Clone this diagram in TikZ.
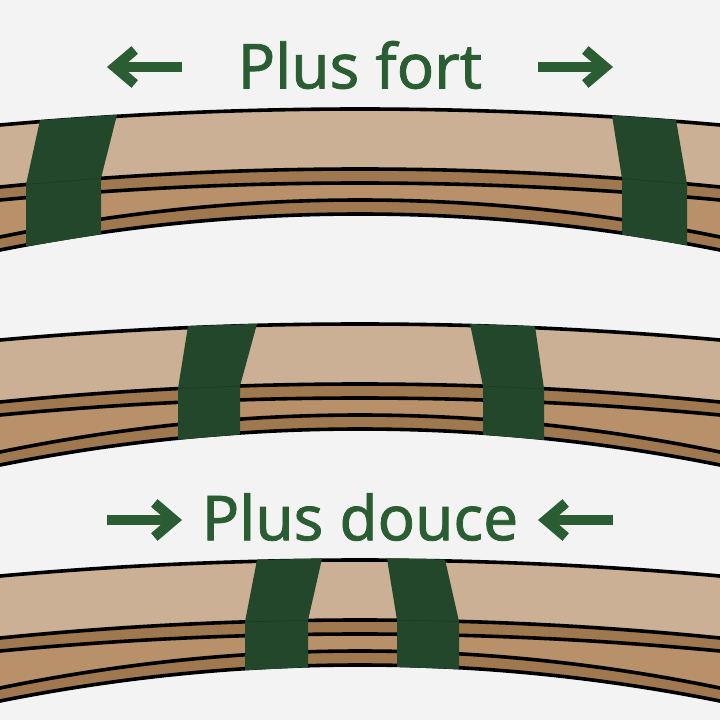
\documentclass[tikz,border=0pt]{standalone}
\usepackage{fontspec}
\setmainfont{Noto Sans}
\newfontfamily\titrefont[FakeBold=1.2]{Noto Sans}
\usetikzlibrary{arrows.meta}
\definecolor{fond}{HTML}{F3F3F3}
\definecolor{boisclair}{HTML}{CBB095}
\definecolor{boisfonce}{HTML}{A07850}
\definecolor{boismoyen}{HTML}{B8906A}
\definecolor{cale}{HTML}{22472A}
\definecolor{calebord}{HTML}{1A3B21}
\definecolor{vert}{HTML}{2A5E32}
\begin{document}
\begin{tikzpicture}[x=1pt,y=-1pt,
    declare function={arc(\x,\c,\k)=\c+\k*(\x/360-1)^2;}]
      \tikzset{trait/.style={line width=3.6pt,black},
          fleche/.style={vert,line width=10pt,
          -{Straight Barb[length=20pt,width=34pt]}},
          titre/.style={vert,font=\titrefont\fontsize{62}{62}\selectfont,inner sep=0pt}
      }
      \fill [fond] (0,0) rectangle (720,720);
      \useasboundingbox (0,0) rectangle (720,720);
      % trois lattes
      \foreach \o/\la/\lb/\lc/\ld/\ra/\rb/\rc/\rd in
          {0/40/117/26/101/612/676/622/687,
           215/188/257/178/240/470/535/483/544,
           451/257/322/245/308/387/445/397/459}{
        \begin{scope}[yshift=-\o pt,smooth,samples=50]
        \fill [boismoyen] plot[domain=-5:725] (\x,{arc(\x,109,16)})
            -- plot[domain=725:-5] (\x,{arc(\x,214,36)}) -- cycle;
        \fill [boisclair] plot[domain=-5:725] (\x,{arc(\x,109,16)})
            -- plot[domain=725:-5] (\x,{arc(\x,169,18)}) -- cycle;
        \fill [boisfonce] plot[domain=-5:725] (\x,{arc(\x,169,18)})
            -- plot[domain=725:-5] (\x,{arc(\x,183,17)}) -- cycle;
        \fill [boisfonce] plot[domain=-5:725] (\x,{arc(\x,200,37)})
            -- plot[domain=725:-5] (\x,{arc(\x,214,36)}) -- cycle;
        \foreach \c/\k in {109/16,169/18,183/17,200/37,214/36}
          \draw [trait] plot[domain=-5:725] (\x,{arc(\x,\c,\k)});
        % cales
        \foreach \xa/\xb/\xc/\xd in {\la/\lb/\lc/\ld,\ra/\rb/\rc/\rd}{
          \coordinate (H1) at (\xa,{arc(\xa,109,16)-1.5});
          \coordinate (H2) at (\xb,{arc(\xb,109,16)-1.5});
          \coordinate (M1) at (\xc,{arc(\xc,169,18)});
          \coordinate (M2) at (\xd,{arc(\xd,169,18)});
          \coordinate (B1) at (\xc,{arc(\xc,214,36)+1.5});
          \coordinate (B2) at (\xd,{arc(\xd,214,36)+1.5});
          \fill [cale] (H1)--(H2)--(M2)--(B2)--(B1)--(M1)--cycle;
          \draw [calebord,line width=0.6pt] (M1)--(M2);
        }
        \end{scope}
      }
      % textes et fleches
      \node [titre] (fort) at (360,65) {Plus fort};
      \node [titre] (douce) at (360,517) {Plus douce};
      \coordinate (fg1) at (182,67);  \coordinate (fg2) at (107,67);
      \coordinate (fd1) at (538,67);  \coordinate (fd2) at (613,67);
      \coordinate (dg1) at (107,520); \coordinate (dg2) at (182,520);
      \coordinate (dd1) at (613,520); \coordinate (dd2) at (538,520);
      \draw [fleche] (fg1)--(fg2);
      \draw [fleche] (fd1)--(fd2);
      \draw [fleche] (dg1)--(dg2);
      \draw [fleche] (dd1)--(dd2);
\end{tikzpicture}
\end{document}
